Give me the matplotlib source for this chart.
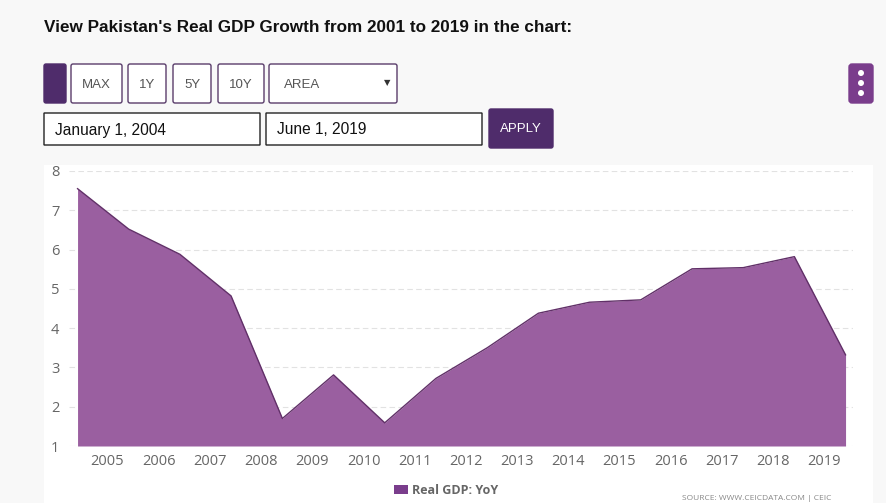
"""Pakistan real GDP growth area chart, with the page controls around it."""
from datetime import datetime

import matplotlib
matplotlib.use("Agg")
import matplotlib.dates as mdates
import matplotlib.patches as mpatches
import matplotlib.pyplot as plt

# data (fiscal year values plotted at June 1)
years = list(range(2004, 2020))
gdp_yoy = [7.55, 6.52, 5.88, 4.82, 1.70, 2.81, 1.59, 2.72,
           3.50, 4.38, 4.66, 4.72, 5.51, 5.54, 5.82, 3.32]
tick_years = list(range(2005, 2020))
y_ticks = [1, 2, 3, 4, 5, 6, 7, 8]

W, H = 886, 503
PURPLE_DARK = "#4f2c6b"
FILL = "#9a5fa0"
LINE = "#613068"

fig = plt.figure(figsize=(W / 100, H / 100), dpi=100, facecolor="#f8f8f8")

# background layer in pixel coordinates for the page widgets
bg = fig.add_axes([0, 0, 1, 1], zorder=0)
bg.set_xlim(0, W)
bg.set_ylim(H, 0)
bg.axis("off")

bg.text(44, 27, "View Pakistan's Real GDP Growth from 2001 to 2019 in the chart:",
        fontsize=12.3, fontweight="bold", family="Liberation Sans",
        color="#111111", va="center", ha="left")


def button(x0, x1, y0, y1, label=None, fc="white", ec="#5a3d6b", tc="#555555",
           ha="center", tx=None, r=2, size=9.5):
    bg.add_patch(mpatches.FancyBboxPatch((x0, y0), x1 - x0, y1 - y0,
                                         boxstyle=f"round,pad=0,rounding_size={r}",
                                         fc=fc, ec=ec, lw=1.0))
    if label:
        bg.text(tx if tx is not None else (x0 + x1) / 2, (y0 + y1) / 2 + 1, label,
                ha=ha, va="center", fontsize=size, color=tc, family="Liberation Sans")


button(44, 66, 64, 103, fc=PURPLE_DARK, ec=PURPLE_DARK)
button(71, 122, 64, 103, "MAX")
button(128, 166, 64, 103, "1Y")
button(173, 211, 64, 103, "5Y")
button(218, 264, 64, 103, "10Y")
button(269, 397, 64, 103, "AREA", ha="left", tx=284)
bg.text(387, 83, "▼", fontsize=6, color="#333333", ha="center", va="center")

button(44, 260, 113, 145, "January 1, 2004", ec="#222222", tc="#111111",
       ha="left", tx=55, r=0, size=11.2)
button(266, 482, 113, 145, "June 1, 2019", ec="#222222", tc="#111111",
       ha="left", tx=277, r=0, size=11.2)
button(489, 553, 109, 148, "APPLY", fc=PURPLE_DARK, ec=PURPLE_DARK, tc="white")

# menu button on the right
button(849, 873, 64, 103, fc="#7a3d8c", ec="#7a3d8c", r=3)
for dy in (73, 83, 93):
    bg.add_patch(mpatches.Circle((861, dy), 3, fc="white", ec="none"))

# white chart panel
bg.add_patch(mpatches.Rectangle((44, 165), 873 - 44, H - 165, fc="white", ec="none"))

# chart
ax = fig.add_axes([69 / W, 1 - 446 / H, (852.7 - 69) / W, (446 - 171) / H], zorder=1)
ax.set_facecolor("none")

dates = [datetime(y, 6, 1) for y in years]
ax.fill_between(dates, gdp_yoy, 1, color=FILL, lw=0, label="Real GDP: YoY", zorder=2)
ax.plot(dates, gdp_yoy, color=LINE, lw=1.0, zorder=3)

ax.set_ylim(1, 8)
ax.set_yticks(y_ticks)
ax.set_xlim(datetime(2004, 4, 1), datetime(2019, 7, 22))
ax.set_xticks([datetime(y, 1, 1) for y in tick_years])
ax.xaxis.set_major_formatter(mdates.DateFormatter("%Y"))

ax.grid(axis="y", color="#e2e2e2", linestyle=(0, (5, 3)), lw=0.8, zorder=1)
ax.grid(axis="x", visible=False)
for s in ax.spines.values():
    s.set_visible(False)
ax.tick_params(axis="both", length=0, labelcolor="#666666", labelsize=10.5)
ax.tick_params(axis="y", pad=7)
ax.tick_params(axis="x", pad=6)
for lab in ax.get_xticklabels() + ax.get_yticklabels():
    lab.set_family("Open Sans")

leg = ax.legend(loc="center", bbox_to_anchor=(446 / W, 1 - 490 / H),
                bbox_transform=fig.transFigure, frameon=False,
                handlelength=1.1, handleheight=0.7, handletextpad=0.3,
                prop={"family": "Open Sans", "weight": "bold", "size": 9})
for t in leg.get_texts():
    t.set_color("#666666")
for h in leg.legend_handles:
    h.set_color("#7a3d8c")

fig.text(682 / W, 1 - 498 / H, "SOURCE: WWW.CEICDATA.COM | CEIC",
         fontsize=6, color="#888888", ha="left", va="center", family="Open Sans")

fig.savefig("out.png", dpi=100, facecolor=fig.get_facecolor())
